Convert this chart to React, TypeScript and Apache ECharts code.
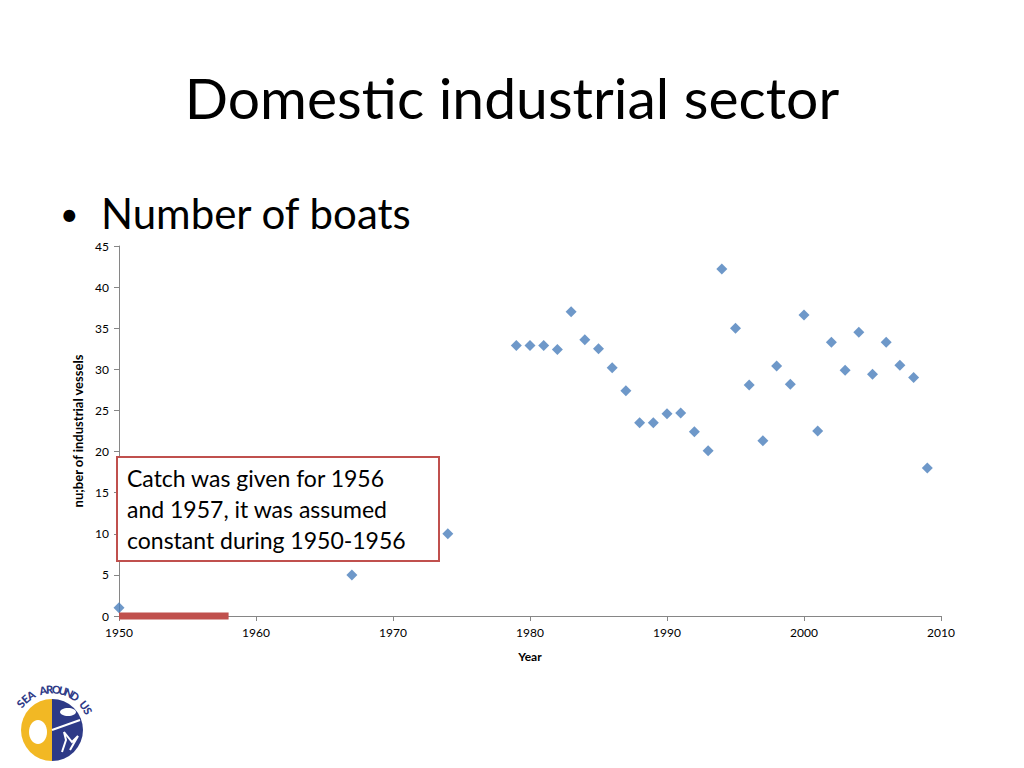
import React, { useEffect, useRef } from "react";
import * as echarts from "echarts";

const years = [1950, 1967, 1974, 1979, 1980, 1981, 1982, 1983, 1984, 1985, 1986, 1987, 1988, 1989, 1990, 1991, 1992, 1993, 1994, 1995, 1996, 1997, 1998, 1999, 2000, 2001, 2002, 2003, 2004, 2005, 2006, 2007, 2008, 2009];
const vessels = [1, 5, 10, 32.9, 32.9, 32.9, 32.4, 37, 33.6, 32.5, 30.2, 27.4, 23.5, 23.5, 24.6, 24.7, 22.4, 20.1, 42.2, 35, 28.1, 21.3, 30.4, 28.2, 36.6, 22.5, 33.3, 29.9, 34.5, 29.4, 33.3, 30.5, 29, 18];
const assumedPeriod = [1950, 1958];

const FONT = "Lato, 'Open Sans', sans-serif";
const logoLetters = "SEA AROUND US".split("");

export default function App() {
  const ref = useRef<HTMLDivElement>(null);
  useEffect(() => {
    if (!ref.current) return;
    const chart = echarts.init(ref.current, undefined, { renderer: "svg" });

    const cx = 52, cy = 730, r = 41;
    const a0 = -50, a1 = 62;
    const letterEls: any[] = logoLetters.map((ch, i) => {
      const deg = a0 + ((a1 - a0) * i) / (logoLetters.length - 1);
      const rad = (deg * Math.PI) / 180;
      return {
        type: "text",
        x: cx + r * Math.sin(rad),
        y: cy - r * Math.cos(rad),
        rotation: -rad,
        style: { text: ch, fill: "#2E3A87", font: "900 11px " + FONT, align: "center", verticalAlign: "middle" },
      };
    });

    chart.setOption({
      animation: false,
      backgroundColor: "#ffffff",
      grid: { left: 119, right: 83, top: 246, bottom: 152 },
      xAxis: {
        type: "value",
        min: 1950,
        max: 2010,
        interval: 10,
        name: "Year",
        nameLocation: "middle",
        nameGap: 34,
        nameTextStyle: { fontFamily: FONT, fontWeight: "bold", fontSize: 12, color: "#000" },
        axisLine: { show: true, lineStyle: { color: "#868686" } },
        axisTick: { show: true, length: 5, lineStyle: { color: "#868686" } },
        axisLabel: { fontFamily: FONT, fontSize: 12, color: "#000", margin: 10, formatter: (v: number) => String(v) },
        splitLine: { show: false },
      },
      yAxis: {
        type: "value",
        min: 0,
        max: 45,
        interval: 5,
        name: "nu;ber of industrial vessels",
        nameLocation: "middle",
        nameGap: 32,
        nameRotate: 90,
        nameTextStyle: { fontFamily: FONT, fontWeight: "bold", fontSize: 13, color: "#000" },
        axisLine: { show: true, lineStyle: { color: "#868686" } },
        axisTick: { show: true, length: 5, lineStyle: { color: "#868686" } },
        axisLabel: { fontFamily: FONT, fontSize: 12, color: "#000", margin: 10 },
        splitLine: { show: false },
      },
      series: [
        {
          type: "scatter",
          data: years.map((y, i) => [y, vessels[i]]),
          symbol: "diamond",
          symbolSize: 11,
          itemStyle: { color: "#4A7EBB" },
          z: 3,
        },
        {
          type: "line",
          data: assumedPeriod.map((y) => [y, 0]),
          showSymbol: false,
          symbol: "none",
          lineStyle: { color: "#C0504D", width: 7 },
          z: 4,
          clip: false,
        },
      ],
      graphic: [
        {
          type: "text",
          x: 512,
          y: 97,
          style: { text: "Domestic industrial sector", font: "57px " + FONT, fill: "#000", align: "center", verticalAlign: "middle" },
        },
        {
          type: "text",
          x: 60,
          y: 213,
          style: { text: "•", font: "32px " + FONT, fill: "#000", verticalAlign: "middle" },
        },
        {
          type: "text",
          x: 101,
          y: 213,
          style: { text: "Number of boats", font: "42px " + FONT, fill: "#000", verticalAlign: "middle" },
        },
        {
          type: "rect",
          shape: { x: 117, y: 457, width: 322, height: 104 },
          style: { fill: "#ffffff", stroke: "#C0504D", lineWidth: 2 },
          z: 100,
        },
        {
          type: "text",
          x: 127,
          y: 478,
          z: 101,
          style: { text: "Catch was given for 1956", font: "23px " + FONT, fill: "#000", verticalAlign: "middle" },
        },
        {
          type: "text",
          x: 127,
          y: 509,
          z: 101,
          style: { text: "and 1957, it was assumed", font: "23px " + FONT, fill: "#000", verticalAlign: "middle" },
        },
        {
          type: "text",
          x: 127,
          y: 540,
          z: 101,
          style: { text: "constant during 1950-1956", font: "23px " + FONT, fill: "#000", verticalAlign: "middle" },
        },
        {
          type: "sector",
          shape: { cx: 52, cy: 730, r: 31, startAngle: Math.PI / 2, endAngle: (3 * Math.PI) / 2 },
          style: { fill: "#F2B824" },
        },
        {
          type: "sector",
          shape: { cx: 52, cy: 730, r: 31, startAngle: -Math.PI / 2, endAngle: Math.PI / 2 },
          style: { fill: "#2E3A87" },
        },
        {
          type: "line",
          shape: { x1: 52, y1: 730, x2: 80, y2: 720 },
          style: { stroke: "#ffffff", lineWidth: 2 },
        },
        {
          type: "ellipse",
          shape: { cx: 38, cy: 732, rx: 9, ry: 12 },
          style: { fill: "#ffffff" },
        },
        {
          type: "ellipse",
          shape: { cx: 68, cy: 712, rx: 8, ry: 4 },
          style: { fill: "#ffffff" },
        },
        {
          type: "polyline",
          shape: { points: [[62, 752], [66, 740], [64, 732], [72, 742], [78, 736], [70, 750]] },
          style: { stroke: "#ffffff", lineWidth: 2, fill: "none" },
        },
        ...letterEls,
      ],
    });
    return () => chart.dispose();
  }, []);
  return <div ref={ref} style={{ position: "fixed", left: 0, top: 0, width: 1024, height: 768 }} />;
}
